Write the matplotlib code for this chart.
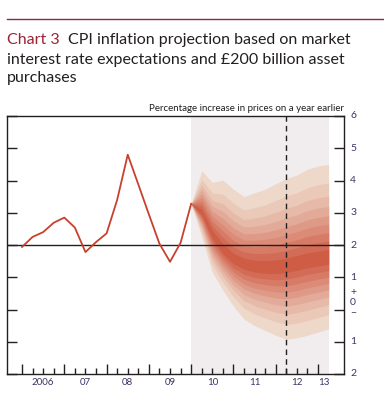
import numpy as np
import matplotlib.pyplot as plt
from matplotlib.colors import to_rgb
from matplotlib.transforms import blended_transform_factory

plt.rcParams['font.family'] = ['Lato', 'DejaVu Sans']

# CPI inflation outturns, quarterly from 2006
hist_x = [2006 + 0.25 * i for i in range(17)]
hist_y = [1.94, 2.25, 2.40, 2.69, 2.85, 2.54, 1.78, 2.09, 2.36,
          3.40, 4.80, 3.88, 2.95, 2.04, 1.48, 2.07, 3.28]

# projection fan, quarterly from 2010
fan_x = [2010 + 0.25 * i for i in range(14)]
fan_mid = [3.28, 3.00, 2.30, 1.85, 1.55, 1.40, 1.32, 1.30, 1.30, 1.35, 1.42, 1.50, 1.55, 1.60]
fan_hi = [3.28, 4.30, 3.94, 4.01, 3.73, 3.50, 3.62, 3.73, 3.90, 4.06, 4.17, 4.35, 4.45, 4.50]
fan_lo = [3.28, 2.25, 1.15, 0.60, 0.10, -0.30, -0.50, -0.65, -0.80, -0.92, -0.88, -0.80, -0.70, -0.60]
# share of the 90% half-width covered by each band edge (10% steps)
band_frac = [0.09, 0.18, 0.27, 0.36, 0.45, 0.55, 0.66, 0.80, 1.0]

years = [2006, 2007, 2008, 2009, 2010, 2011, 2012, 2013]
year_labels = ['2006', '07', '08', '09', '10', '11', '12', '13']
year_label_pos = [2006.5, 2007.5, 2008.5, 2009.5, 2010.5, 2011.5, 2012.5, 2013.13]

fig = plt.figure(figsize=(3.84, 3.96), dpi=100)
ax = fig.add_axes([7 / 384, 22 / 396, 337 / 384, 258 / 396])

ax.set_xlim(2005.645, 2013.614)
ax.set_ylim(-2, 6)

# shaded projection period
ax.axvspan(2010.0, 2013.25, color='#f1edef', lw=0, zorder=0)

mid = np.array(fan_mid)
hi = np.array(fan_hi)
lo = np.array(fan_lo)
light = np.array(to_rgb('#eed8c9'))
dark = np.array(to_rgb('#cf5c45'))
n = len(band_frac)
for i in range(n - 1, -1, -1):
    t = (n - 1 - i) / (n - 1)
    col = light + (dark - light) * t
    f = band_frac[i]
    ax.fill_between(fan_x, mid - f * (mid - lo), mid + f * (hi - mid),
                    color=col, lw=0, zorder=1)

ax.axhline(2, color='#231f20', lw=1.0, zorder=3)
ax.axvline(2012.25, color='#231f20', lw=1.0, ls=(0, (4, 3)), zorder=3)
ax.plot(hist_x, hist_y, color='#c8402e', lw=1.3, zorder=4)

for s in ax.spines.values():
    s.set_color('#231f20')
    s.set_linewidth(1.0)

ax.set_xticks(years)
ax.set_xticks([y + q * 0.25 for y in years[:-1] for q in range(1, 4)], minor=True)
ax.tick_params(axis='x', which='major', direction='in', length=7.5, width=1,
               labelbottom=False, colors='#231f20')
ax.tick_params(axis='x', which='minor', direction='in', length=4.5, width=1,
               colors='#231f20')
ax.set_yticks(range(-2, 7))
ax.tick_params(axis='y', which='major', direction='in', length=7.5, width=1,
               left=True, right=True, labelleft=False, labelright=False,
               colors='#231f20')

tx = ax.get_xaxis_transform()
for p, lab in zip(year_label_pos, year_labels):
    ax.text(p, -0.033, lab, transform=tx, ha='center', va='center',
            fontsize=7, color='#3b3563')

ty = blended_transform_factory(ax.transAxes, ax.transData)
right_labels = [(6, '6'), (5, '5'), (4, '4'), (3, '3'), (2, '2'), (1, '1'),
                (0.52, '+'), (0.21, '0'), (-0.13, '\u2212'), (-1, '1'), (-2, '2')]
for v, lab in right_labels:
    ax.text(1.018, v, lab, transform=ty, ha='left', va='center',
            fontsize=7.5, color='#3b3563')

ax.text(1.0, 1.012, 'Percentage increase in prices on a year earlier',
        transform=ax.transAxes, ha='right', va='bottom', fontsize=7.0,
        color='#231f20')

# header
fig.add_artist(plt.Line2D([7 / 384, 1], [1 - 19 / 396, 1 - 19 / 396],
                          color='#8b2b3f', lw=1.0))
fig.text(7 / 384, 1 - 44 / 396, 'Chart 3', fontsize=11.5, color='#9b2335',
         ha='left', va='baseline')
fig.text(68 / 384, 1 - 44 / 396, 'CPI inflation projection based on market',
         fontsize=11.5, color='#231f20', ha='left', va='baseline')
fig.text(7 / 384, 1 - 64 / 396, 'interest rate expectations and \u00a3200 billion asset',
         fontsize=11.5, color='#231f20', ha='left', va='baseline')
fig.text(7 / 384, 1 - 82 / 396, 'purchases',
         fontsize=11.5, color='#231f20', ha='left', va='baseline')

fig.savefig('out.png', dpi=100)
